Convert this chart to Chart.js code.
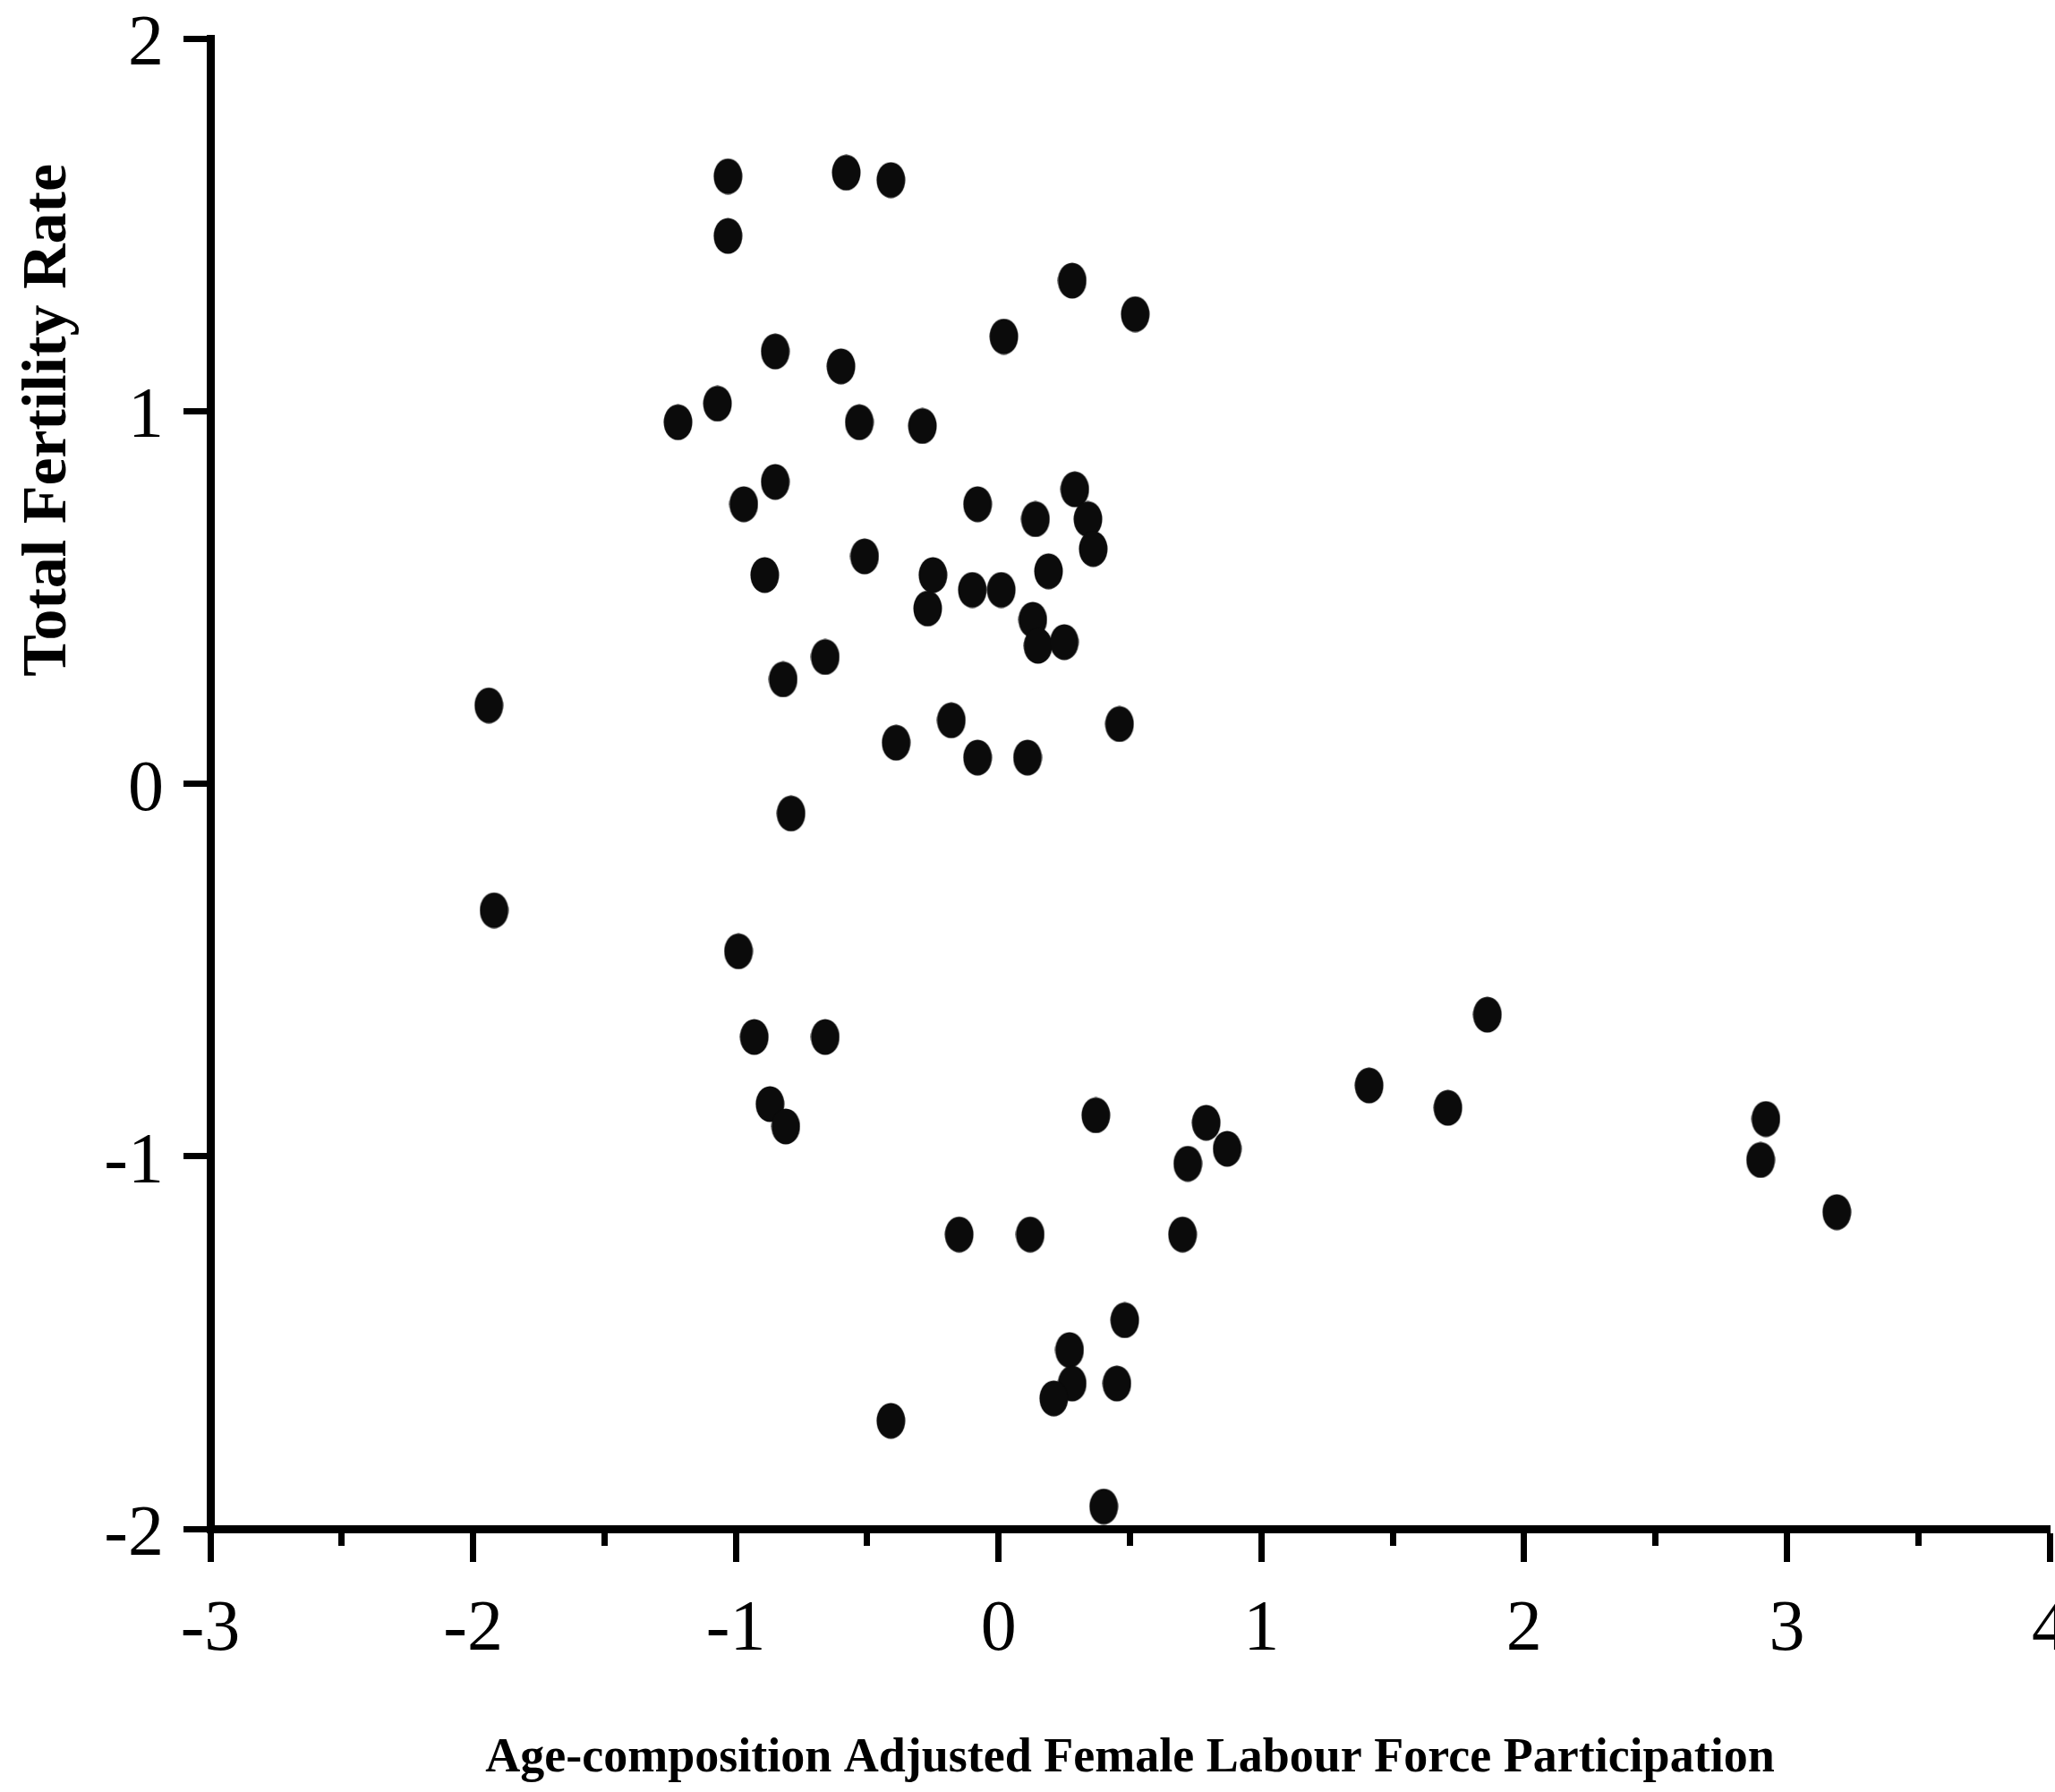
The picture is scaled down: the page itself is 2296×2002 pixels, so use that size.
<!DOCTYPE html>
<html>
<head>
<meta charset="utf-8">
<script src="https://cdn.jsdelivr.net/npm/chart.js@4/dist/chart.umd.min.js"></script>
<style>
html,body{margin:0;padding:0;background:#fff;}
canvas{display:block;}
</style>
</head>
<body>
<canvas id="c" width="2296" height="2002"></canvas>
<script>
// ---- data ----
const xValues = [
  -1.03, -1.03, -0.58, -0.41, 0.28, 0.52, 0.02, -0.85, -0.60, -1.07,
  -1.22, -0.53, -0.29, -0.85, -0.97, -0.08, 0.29, 0.14, 0.34, 0.36,
  -0.51, 0.19, -0.89, -0.25, -0.27, -0.10, 0.01, 0.13, 0.15, 0.25,
  -0.66, -0.82, -1.94, -0.39, -0.18, -0.08, 0.11, 0.46, -0.79, -1.92,
  -0.99, -0.93, -0.66, -0.87, -0.81, 0.37, 0.79, 0.87, 0.72, -0.15,
  0.12, 0.70, 0.48, 0.27, 0.28, 0.21, 0.45, -0.41, 0.40, 1.41,
  1.71, 1.86, 2.92, 2.90, 3.19
];
const yValues = [
  1.63, 1.47, 1.64, 1.62, 1.35, 1.26, 1.20, 1.16, 1.12, 1.02,
  0.97, 0.97, 0.96, 0.81, 0.75, 0.75, 0.79, 0.71, 0.71, 0.63,
  0.61, 0.57, 0.56, 0.56, 0.47, 0.52, 0.52, 0.44, 0.37, 0.38,
  0.34, 0.28, 0.21, 0.11, 0.17, 0.07, 0.07, 0.16, -0.08, -0.34,
  -0.45, -0.68, -0.68, -0.86, -0.92, -0.89, -0.91, -0.98, -1.02, -1.21,
  -1.21, -1.21, -1.44, -1.52, -1.61, -1.65, -1.61, -1.71, -1.94, -0.81,
  -0.87, -0.62, -0.90, -1.01, -1.15
];
const xTickValues = [-3, -2.5, -2, -1.5, -1, -0.5, 0, 0.5, 1, 1.5, 2, 2.5, 3, 3.5, 4];
const xTickLabels = ['-3', '', '-2', '', '-1', '', '0', '', '1', '', '2', '', '3', '', '4'];
const yTickValues = [-2, -1, 0, 1, 2];
const yTickLabels = ['-2', '-1', '0', '1', '2'];
const xTitle = 'Age-composition Adjusted Female Labour Force Participation';
const yTitle = 'Total Fertility Rate';

// ---- elliptical marker ----
const dot = document.createElement('canvas');
dot.width = 33; dot.height = 41;
const g = dot.getContext('2d');
g.fillStyle = '#0b0b0b';
g.beginPath();
g.ellipse(16.5, 20.5, 16, 20, 0, 0, Math.PI * 2);
g.fill();

const points = xValues.map((x, i) => ({x: x, y: yValues[i]}));

new Chart(document.getElementById('c'), {
  type: 'scatter',
  data: {
    datasets: [{
      data: points,
      pointStyle: dot,
      pointRadius: 18,
      backgroundColor: '#0b0b0b',
      borderColor: '#0b0b0b',
      clip: false
    }]
  },
  options: {
    responsive: false,
    animation: false,
    devicePixelRatio: 1,
    events: [],
    layout: {autoPadding: false, padding: {left: 0, top: 43, right: 6, bottom: 0}},
    plugins: {legend: {display: false}, tooltip: {enabled: false}},
    scales: {
      x: {
        type: 'linear',
        position: 'bottom',
        min: -3, max: 4,
        afterBuildTicks: s => { s.ticks = xTickValues.map(v => ({value: v})); },
        afterFit: s => { s.height = 294; s.paddingLeft = 0; s.paddingRight = 0; },
        grid: {
          drawOnChartArea: false,
          drawTicks: true,
          tickLength: 37,
          tickWidth: 7,
          tickColor: '#000',
          tickBorderDash: ctx => (ctx.tick && Number.isInteger(ctx.tick.value)) ? [] : [14, 200]
        },
        border: {display: true, color: '#000', width: 9},
        ticks: {
          autoSkip: false, maxRotation: 0, minRotation: 0,
          padding: 29, color: '#000',
          font: {family: 'Liberation Serif', size: 80},
          callback: (v, i) => xTickLabels[i]
        },
        title: {
          display: true, text: xTitle, color: '#000',
          font: {family: 'Liberation Serif', size: 54, weight: 'bold'},
          padding: {top: 0, bottom: 5}
        }
      },
      y: {
        type: 'linear',
        position: 'left',
        min: -2, max: 2,
        afterBuildTicks: s => { s.ticks = yTickValues.map(v => ({value: v})); },
        afterFit: s => { s.width = 235; s.paddingTop = 0; s.paddingBottom = 0; },
        grid: {drawOnChartArea: false, drawTicks: true, tickLength: 30, tickWidth: 7, tickColor: '#000'},
        border: {display: true, color: '#000', width: 9},
        ticks: {
          padding: 22, labelOffset: 8, color: '#000',
          font: {family: 'Liberation Serif', size: 80},
          callback: (v, i) => yTickLabels[i]
        },
        title: {
          display: true, text: yTitle + '\u00a0'.repeat(8), align: 'end', color: '#000',
          font: {family: 'Liberation Serif', size: 70, weight: 'bold'},
          padding: {top: 13, bottom: 0}
        }
      }
    }
  }
});
</script>
</body>
</html>
